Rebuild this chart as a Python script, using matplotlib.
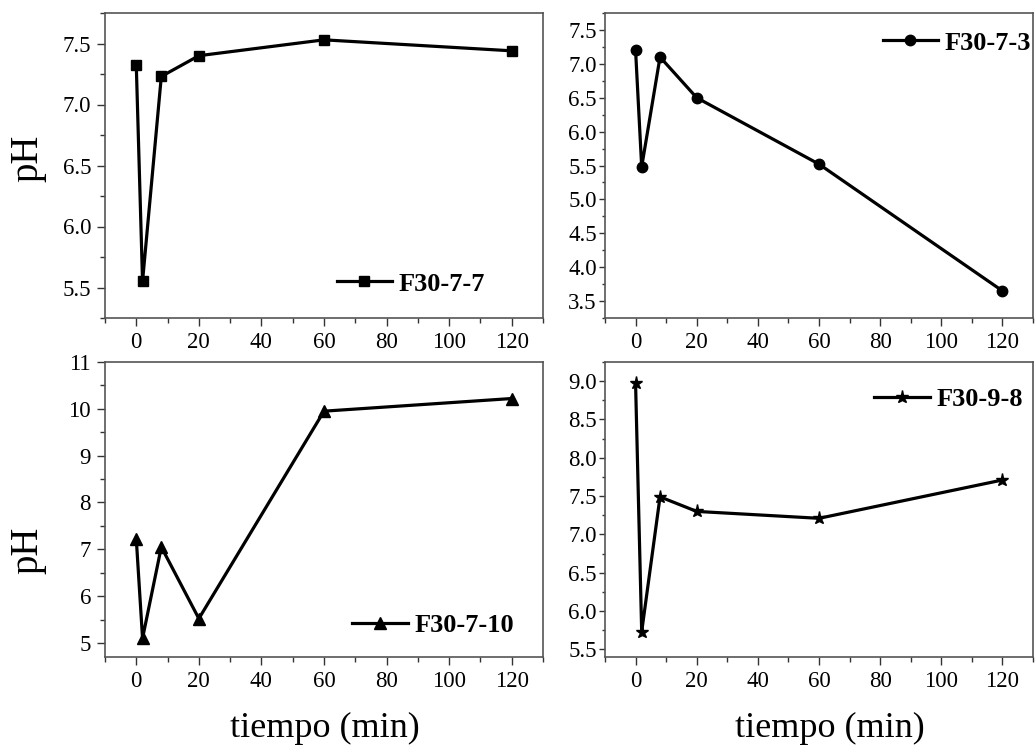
import matplotlib
matplotlib.use("Agg")
import matplotlib.pyplot as plt
from matplotlib.ticker import MultipleLocator

plt.rcParams['font.family'] = ['Liberation Serif', 'DejaVu Serif']

time_min = [0, 2, 8, 20, 60, 120]
ph_f30_7_7 = [7.32, 5.55, 7.23, 7.40, 7.53, 7.44]
ph_f30_7_3 = [7.20, 5.48, 7.10, 6.50, 5.52, 3.65]
ph_f30_7_10 = [7.22, 5.10, 7.05, 5.52, 9.95, 10.22]
ph_f30_9_8 = [8.97, 5.73, 7.49, 7.30, 7.21, 7.71]

labels = ["F30-7-7", "F30-7-3", "F30-7-10", "F30-9-8"]
series = [ph_f30_7_7, ph_f30_7_3, ph_f30_7_10, ph_f30_9_8]
markers = ["s", "o", "^", "*"]
msizes = [6.5, 7.5, 8, 9.5]
ylims = [(5.25, 7.75), (3.25, 7.75), (4.7, 11), (5.4, 9.25)]
ymaj = [0.5, 0.5, 1, 0.5]
ymin = [0.25, 0.25, 0.5, 0.25]
yfmt = ["%.1f", "%.1f", "%d", "%.1f"]
# legend anchor (right end of text, vertical centre) in pixels
legend_px = [(485, 284), (1031, 43), (514, 625), (1023, 399)]

W, H = 1036, 756
fig = plt.figure(figsize=(W / 100, H / 100), dpi=100)
boxes = [(105, 13, 543, 318), (605, 13, 1033, 318),
         (105, 362, 543, 657), (605, 362, 1033, 657)]

for i, (l, t, r, b) in enumerate(boxes):
    ax = fig.add_axes([l / W, 1 - b / H, (r - l) / W, (b - t) / H])
    ax.plot(time_min, series[i], color='black', lw=2.3, marker=markers[i],
            ms=msizes[i], label=labels[i])
    ax.set_xlim(-10, 130)
    ax.set_ylim(*ylims[i])
    ax.xaxis.set_major_locator(MultipleLocator(20))
    ax.xaxis.set_minor_locator(MultipleLocator(10))
    ax.yaxis.set_major_locator(MultipleLocator(ymaj[i]))
    ax.yaxis.set_minor_locator(MultipleLocator(ymin[i]))
    ax.yaxis.set_major_formatter(matplotlib.ticker.FormatStrFormatter(yfmt[i]))
    ax.tick_params(which='both', direction='out', top=False, right=False,
                   labelsize=16.5, color='#333333')
    ax.tick_params(which='major', length=6, width=1, pad=4)
    ax.tick_params(which='minor', length=3.5, width=1)
    if i in (1, 3):
        ax.tick_params(axis='y', which='major', length=4, pad=2)
        ax.tick_params(axis='y', which='minor', length=2.5)
    for s in ax.spines.values():
        s.set_color('#555555')
        s.set_linewidth(1.2)
    lx, ly = legend_px[i]
    ax.legend(loc='center right', bbox_to_anchor=(lx / W, 1 - ly / H),
              bbox_transform=fig.transFigure, frameon=False,
              borderaxespad=0, borderpad=0,
              handlelength=2.1, handletextpad=0.25,
              prop={'weight': 'bold', 'size': 19})

fig.text(28 / W, 1 - 158 / H, "pH", fontsize=28, rotation=90, ha='center', va='center')
fig.text(28 / W, 1 - 550 / H, "pH", fontsize=28, rotation=90, ha='center', va='center')
fig.text(325 / W, 1 - 728 / H, "tiempo (min)", fontsize=26, ha='center', va='center')
fig.text(830 / W, 1 - 728 / H, "tiempo (min)", fontsize=26, ha='center', va='center')

fig.savefig("out.png", dpi=100)
